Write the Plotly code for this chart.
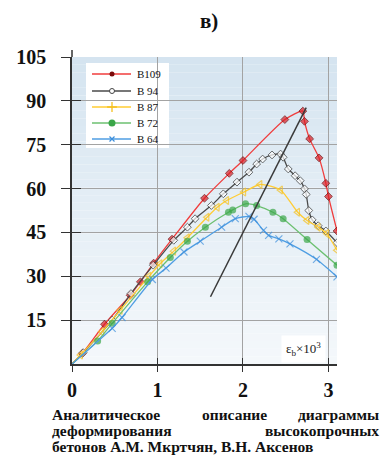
import plotly.graph_objects as go

# Deformation diagrams of high-strength concrete: stress vs strain (eps_b x 10^3)
B109_X = [0, 0.12, 0.38, 0.68, 0.80, 0.955, 1.17, 1.55, 1.84, 2.0, 2.49, 2.70, 2.72, 2.78, 2.89, 2.97, 3.0, 3.1]
B109_Y = [0, 3.6, 13.6, 23.5, 28.1, 34.5, 42.7, 56.7, 65.2, 69.6, 83.6, 86.5, 83.0, 77.0, 70.5, 61.8, 57.3, 45.5]

B94_X = [0, 0.13, 0.47, 0.69, 0.95, 1.19, 1.35, 1.44, 1.63, 1.77, 1.93, 2.07, 2.16, 2.23, 2.34, 2.44, 2.47,
         2.53, 2.61, 2.67, 2.72, 2.74, 2.77, 2.81, 2.88, 2.97, 3.1]
B94_Y = [0, 3.9, 15.0, 24.1, 33.8, 42.3, 46.8, 49.7, 54.2, 58.2, 62.2, 65.6, 68.4, 70.1, 71.5, 71.8, 70.7,
         66.7, 64.4, 62.7, 59.9, 58.0, 52.5, 49.3, 47.3, 45.5, 41.5]

B87_X = [0, 0.10, 0.35, 0.565, 0.90, 1.03, 1.19, 1.35, 1.58, 1.70, 1.81, 2.01, 2.20, 2.44, 2.64, 2.75, 2.88, 2.98, 3.1]
B87_Y = [0, 3.1, 11.0, 18.4, 30.0, 34.3, 38.6, 43.2, 50.2, 53.6, 55.9, 58.8, 61.4, 59.5, 51.9, 49.1, 46.8, 44.6, 38.9]

B72_X = [0, 0.30, 0.47, 0.885, 1.15, 1.35, 1.56, 1.83, 1.88, 2.03, 2.16, 2.35, 2.47, 2.75, 3.1]
B72_Y = [0, 7.9, 13.9, 28.1, 36.4, 42.0, 46.8, 51.9, 52.7, 54.8, 54.2, 51.9, 49.7, 42.6, 33.8]

B64_X = [0, 0.47, 0.585, 0.94, 1.10, 1.31, 1.50, 1.75, 1.91, 2.07, 2.13, 2.24, 2.30, 2.42, 2.55, 2.86, 3.1]
B64_Y = [0, 12.2, 15.9, 28.9, 32.8, 38.3, 42.0, 46.8, 49.7, 50.5, 49.5, 45.7, 44.0, 42.8, 41.1, 35.8, 29.8]

# line through the peak points
PEAK_X = [1.62, 2.74]
PEAK_Y = [23.0, 87.7]

SERIES_NAMES = ["B109", "B 94", "B 87", "B 72", "B 64"]
X_TICKS = [0, 1, 2, 3]
Y_TICKS = [15, 30, 45, 60, 75, 90, 105]

SERIF = "Liberation Serif"

W, H = 384, 471
M_L, M_R, M_T, M_B = 72, 47, 57, 107
PW, PH = W - M_L - M_R, H - M_T - M_B


def px_x(px):
    return (px - M_L) / PW


def px_y(py):
    return (H - M_B - py) / PH


def sizes(xs, size, skip):
    return [0 if (i in skip) else size for i in range(len(xs))]


fig = go.Figure()

styles = [
    ("#f03c3c", dict(symbol="diamond", color="#dc1f26", line=dict(color="#6b0000", width=1)), 6, {0},
     dict(symbol="circle", color="#7a0a0a", size=5, line=dict(width=0))),
    ("#4a4a4a", dict(symbol="diamond", color="white", line=dict(color="#333333", width=1)), 6, {0},
     dict(symbol="circle", color="white", size=5, line=dict(color="#444444", width=1))),
    ("#ffcc33", dict(symbol="triangle-left-open", color="#f4c020", line=dict(width=1.2)), 7, {0},
     dict(symbol="cross-thin-open", color="#f4c020", size=7, line=dict(width=1.3, color="#f4c020"))),
    ("#6cc070", dict(symbol="circle", color="#3aa648", line=dict(width=0)), 7, {0},
     dict(symbol="circle", color="#3aa648", size=7, line=dict(width=0))),
    ("#4f9ee3", dict(symbol="x-thin-open", color="#3d8fdc", line=dict(width=1.2, color="#3d8fdc")), 7, {0},
     dict(symbol="x-thin-open", color="#3d8fdc", size=5, line=dict(width=1.2, color="#3d8fdc"))),
]
data = [(B109_X, B109_Y), (B94_X, B94_Y), (B87_X, B87_Y), (B72_X, B72_Y), (B64_X, B64_Y)]

for name, (xs, ys), (col, mk, sz, skip, _) in zip(SERIES_NAMES, data, styles):
    mk = dict(mk)
    mk["size"] = sizes(xs, sz, skip)
    fig.add_trace(go.Scatter(
        x=xs, y=ys, name=name, mode="lines+markers",
        line=dict(color=col, width=1.3, shape="spline", smoothing=0.6),
        marker=mk, showlegend=False,
    ))

fig.add_trace(go.Scatter(
    x=PEAK_X, y=PEAK_Y, mode="lines", showlegend=False,
    line=dict(color="#3a3a3a", width=1.5),
))

# soft blue gradient behind the grid
shapes = []
n_bands = 40
top = (0xd5, 0xe4, 0xf0)
bot = (0xf4, 0xf8, 0xfb)
for i in range(n_bands):
    t = i / (n_bands - 1)
    c = tuple(int(round(top[k] + (bot[k] - top[k]) * t)) for k in range(3))
    shapes.append(dict(
        type="rect", xref="paper", yref="paper", layer="below",
        x0=0, x1=1, y0=1 - (i + 1) / n_bands, y1=1 - i / n_bands,
        fillcolor="rgb(%d,%d,%d)" % c, line=dict(width=0),
    ))
# axis stem above the top gridline
shapes.append(dict(type="line", xref="paper", yref="paper", x0=0, x1=0, y0=1, y1=px_y(50),
                   line=dict(color="#333333", width=1.5)))

# hand-built legend box with compact rows
LEG_L, LEG_R, LEG_T, LEG_B = 86, 169, 63, 148
LEG_ROWS = [74, 91, 107, 123, 139]
shapes.append(dict(type="rect", xref="paper", yref="paper", layer="between",
                   x0=px_x(LEG_L), x1=px_x(LEG_R), y0=px_y(LEG_B), y1=px_y(LEG_T),
                   fillcolor="white", line=dict(width=0)))
annotations = []
for name, row, (col, _, _, _, lmk) in zip(SERIES_NAMES, LEG_ROWS, styles):
    shapes.append(dict(type="line", xref="paper", yref="paper", layer="between",
                       x0=px_x(92), x1=px_x(131), y0=px_y(row), y1=px_y(row),
                       line=dict(color=col, width=1.3)))
    annotations.append(dict(text=name, x=px_x(135), y=px_y(row), xref="paper", yref="paper",
                            xanchor="left", yanchor="middle", showarrow=False,
                            font=dict(family=SERIF, size=11, color="#111111")))
    fig.add_trace(go.Scatter(x=[px_x(112)], y=[px_y(row)], xaxis="x3", yaxis="y3", mode="markers",
                             marker=lmk, showlegend=False, hoverinfo="skip", cliponaxis=False))

axis_common = dict(
    showline=True, linecolor="#333333", linewidth=1.5,
    gridcolor="#a3a3a3", gridwidth=1.3,
    ticks="outside", tickcolor="#333333", tickwidth=1.3,
    tickfont=dict(family=SERIF, size=20, color="#111111"),
    zeroline=False, tickmode="array",
)

fig.update_layout(
    width=W, height=H,
    margin=dict(l=M_L, r=M_R, t=M_T, b=M_B),
    paper_bgcolor="white", plot_bgcolor="white",
    shapes=shapes,
    xaxis=dict(range=[0, 3.1], tickvals=X_TICKS, ticktext=["<b>%d</b>" % v for v in X_TICKS],
               ticklen=6, ticklabelstandoff=1, **axis_common),
    yaxis=dict(range=[0, 105], tickvals=Y_TICKS, ticktext=["<b>%d</b>" % v for v in Y_TICKS],
               ticklen=9, ticklabelstandoff=11, **axis_common),
    xaxis2=dict(overlaying="x", matches="x", range=[0, 3.1], tickmode="array", tickvals=X_TICKS,
                ticks="inside", ticklen=6, tickcolor="#333333", tickwidth=1.3,
                showticklabels=False, showgrid=False, showline=False, zeroline=False),
    yaxis2=dict(overlaying="y", matches="y", range=[0, 105], tickmode="array", tickvals=Y_TICKS,
                ticks="inside", ticklen=9, tickcolor="#333333", tickwidth=1.3,
                showticklabels=False, showgrid=False, showline=False, zeroline=False),
    xaxis3=dict(overlaying="x", range=[0, 1], visible=False),
    yaxis3=dict(overlaying="y", range=[0, 1], visible=False),
    showlegend=False,
)

# invisible trace to activate the overlay tick axes
fig.add_trace(go.Scatter(x=[0], y=[0], xaxis="x2", yaxis="y2", mode="markers",
                         marker=dict(size=1, opacity=0), showlegend=False, hoverinfo="skip"))

annotations += [
    dict(text="ε<sub>b</sub>×10<sup>3</sup>", x=px_x(303), y=px_y(349), xref="paper", yref="paper",
         xanchor="center", yanchor="middle",
         showarrow=False, bgcolor="white", borderpad=4,
         font=dict(family=SERIF, size=13, color="#222222")),
    dict(text="<b>в)</b>", x=px_x(209), y=px_y(21), xref="paper", yref="paper",
         xanchor="center", yanchor="middle",
         showarrow=False, font=dict(family=SERIF, size=21, color="#111111")),
]

caption = [
    ("Аналитическое", 50, 414, "left"),
    ("описание", 200, 414, "left"),
    ("диаграммы", 381, 414, "right"),
    ("деформирования", 50, 430, "left"),
    ("высокопрочных", 381, 430, "right"),
    ("бетонов А.М. Мкртчян, В.Н. Аксенов", 50, 446, "left"),
]
for txt, px, py, anchor in caption:
    annotations.append(dict(
        text="<b>%s</b>" % txt, x=px_x(px), y=px_y(py), xref="paper", yref="paper",
        xanchor=anchor, yanchor="middle", showarrow=False,
        font=dict(family=SERIF, size=15.5, color="#111111"),
    ))

fig.update_layout(annotations=annotations)

fig.write_html("out.html")
